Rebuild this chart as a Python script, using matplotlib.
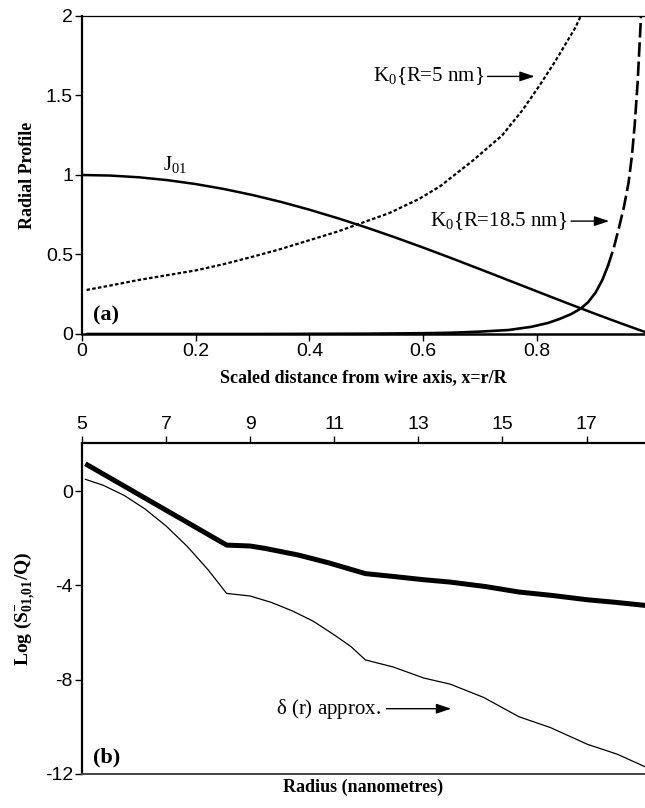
import matplotlib
matplotlib.use("Agg")
import matplotlib.pyplot as plt

plt.rcParams['mathtext.default'] = 'regular'
plt.rcParams['axes.unicode_minus'] = False

# ---------------- Panel (a) data ----------------
j01_x = [0.0, 0.05, 0.1, 0.15, 0.2, 0.25, 0.3, 0.35, 0.4, 0.45, 0.5, 0.55,
         0.6, 0.65, 0.7, 0.75, 0.8, 0.85, 0.9, 0.95, 0.99, 1.0]
j01_y = [1.0, 0.9964, 0.9856, 0.9677, 0.943, 0.9116, 0.874, 0.8306, 0.7817,
         0.7279, 0.6699, 0.6082, 0.5434, 0.4763, 0.4075, 0.3378, 0.2679,
         0.1984, 0.1302, 0.0638, 0.0126, 0.0]

k5_x = [0.008, 0.05, 0.1, 0.15, 0.2, 0.25, 0.3, 0.35, 0.4, 0.45, 0.485, 0.54,
        0.593, 0.63, 0.687, 0.739, 0.775, 0.804, 0.833, 0.868, 0.877]
k5_y = [0.277, 0.305, 0.34, 0.37, 0.40, 0.44, 0.486, 0.535, 0.59, 0.645, 0.69,
        0.76, 0.85, 0.93, 1.09, 1.25, 1.41, 1.56, 1.72, 1.93, 2.0]

k185_x = [0.01, 0.3, 0.5, 0.6, 0.65, 0.7, 0.75, 0.79, 0.82, 0.84, 0.86,
          0.877, 0.89, 0.903, 0.915, 0.925, 0.935, 0.945, 0.953, 0.961,
          0.967, 0.972, 0.977, 0.983]
k185_y = [0.0, 0.0, 0.002, 0.005, 0.008, 0.015, 0.025, 0.045, 0.07, 0.095,
          0.125, 0.16, 0.2, 0.26, 0.34, 0.43, 0.54, 0.68, 0.80, 0.95, 1.12,
          1.32, 1.58, 2.0]

a_xticks = [0, 0.2, 0.4, 0.6, 0.8]
a_xticklabels = ['0', '0.2', '0.4', '0.6', '0.8']
a_yticks = [0, 0.5, 1, 1.5, 2]
a_yticklabels = ['0', '0.5', '1', '1.5', '2']

# ---------------- Panel (b) data ----------------
exact_x = [5.08, 8.44, 9.0, 9.35, 10.14, 10.86, 11.74, 12.4, 13.13, 13.76,
           14.6, 15.39, 16.2, 17.02, 17.7, 18.4]
exact_y = [1.16, -2.29, -2.33, -2.43, -2.71, -3.04, -3.50, -3.62, -3.76,
           -3.86, -4.05, -4.28, -4.43, -4.61, -4.72, -4.85]

approx_x = [5.08, 5.5, 6.0, 6.5, 7.0, 7.5, 8.0, 8.44, 9.0, 9.5, 10.0, 10.5,
            11.0, 11.4, 11.74, 12.4, 13.13, 13.76, 14.55, 15.39, 16.14,
            17.02, 17.73, 18.4]
approx_y = [0.5, 0.25, -0.18, -0.76, -1.48, -2.34, -3.34, -4.34, -4.45,
            -4.72, -5.08, -5.52, -6.1, -6.6, -7.16, -7.46, -7.93, -8.19,
            -8.75, -9.57, -10.03, -10.74, -11.16, -11.70]

b_xticks = [5, 7, 9, 11, 13, 15, 17]
b_yticks = [0, -4, -8, -12]

SERIF = 'Liberation Serif'
SANS = 'Liberation Sans'
ARROW = '-|>,head_length=0.9,head_width=0.3'

fig = plt.figure(figsize=(6.45, 8.08), dpi=100)

# ================= Panel (a) =================
axa = fig.add_axes([82/645, 1-334/808, 1-82/645, (334-16)/808])
axa.plot(j01_x, j01_y, color='black', lw=1.8, solid_capstyle='butt')
axa.plot(k5_x, k5_y, color='black', lw=1.6, dashes=(1.6, 1.0))
split = 15
axa.plot(k185_x[:split + 1], k185_y[:split + 1], color='black', lw=1.9)
axa.plot(k185_x[split:], k185_y[split:], color='black', lw=1.9,
         dashes=(5.5, 1.8))
axa.set_xlim(0, 0.99)
axa.set_ylim(0, 2)
axa.set_xticks(a_xticks)
axa.set_xticklabels(a_xticklabels)
axa.set_yticks(a_yticks)
axa.set_yticklabels(a_yticklabels)
axa.spines['right'].set_visible(False)
axa.spines['top'].set_linewidth(0.9)
axa.spines['left'].set_linewidth(1.6)
axa.spines['bottom'].set_linewidth(1.8)
axa.tick_params(direction='out', length=5, width=1.0, pad=1.5,
                labelsize=14)
for lab in axa.get_xticklabels() + axa.get_yticklabels():
    lab.set_family(SANS)
axa.set_xlabel('Scaled distance from wire axis, x=r/R', family=SERIF,
               fontweight='bold', fontsize=13)
axa.xaxis.set_label_coords(0.5, -0.112)
axa.set_ylabel('Radial Profile', family=SERIF, fontweight='bold',
               fontsize=13)
axa.yaxis.set_label_coords(-0.082, 0.5)

axa.text(0.142, 1.03, 'J$_{01}$', family=SERIF, fontsize=15,
         ha='left', va='baseline')
axa.text(0.707, 1.62, 'K$_0${R=5 nm}', family=SERIF, fontsize=15,
         ha='right', va='center')
axa.annotate('', xy=(0.796, 1.62), xytext=(0.713, 1.62),
             arrowprops=dict(arrowstyle=ARROW, color='black', lw=1.0,
                             shrinkA=0, shrinkB=0))
axa.text(0.853, 0.71, 'K$_0${R=18.5 nm}', family=SERIF, fontsize=15,
         ha='right', va='center')
axa.annotate('', xy=(0.927, 0.71), xytext=(0.86, 0.71),
             arrowprops=dict(arrowstyle=ARROW, color='black', lw=1.0,
                             shrinkA=0, shrinkB=0))
axa.text(0.019, 0.085, '(a)', family=SERIF, fontweight='bold', fontsize=16,
         ha='left', va='baseline')

# ================= Panel (b) =================
axb = fig.add_axes([82/645, 1-774/808, 1-82/645, (774-443)/808])
axb.plot(exact_x, exact_y, color='black', lw=3.6, solid_joinstyle='round',
         solid_capstyle='butt')
axb.plot(approx_x, approx_y, color='black', lw=0.9)
axb.set_xlim(5, 18.39)
axb.set_ylim(-12, 2.04)
axb.xaxis.tick_top()
axb.set_xticks(b_xticks)
axb.set_yticks(b_yticks)
axb.spines['right'].set_visible(False)
axb.spines['top'].set_linewidth(1.6)
axb.spines['left'].set_linewidth(1.6)
axb.spines['bottom'].set_linewidth(1.4)
axb.spines['bottom'].set_color('#444444')
axb.tick_params(direction='out', length=5, width=1.0, pad=2.5,
                labelsize=14)
axb.tick_params(axis='y', pad=1.5)
for lab in axb.get_xticklabels() + axb.get_yticklabels():
    lab.set_family(SANS)
axb.set_xlabel('Radius (nanometres)', family=SERIF, fontweight='bold',
               fontsize=13)
axb.xaxis.set_label_position('bottom')
axb.xaxis.set_label_coords(0.5, -0.014)
axb.set_ylabel('Log (S$^{-}_{01{,}01}$/Q)', family=SERIF, fontweight='bold',
               fontsize=14)
axb.yaxis.set_label_coords(-0.078, 0.5)

axb.text(12.1, -9.23, r'$\delta$ (r) approx.', family=SERIF, fontsize=15,
         ha='right', va='center')
axb.annotate('', xy=(13.78, -9.23), xytext=(12.24, -9.23),
             arrowprops=dict(arrowstyle=ARROW, color='black', lw=1.0,
                             shrinkA=0, shrinkB=0))
axb.text(5.26, -11.5, '(b)', family=SERIF, fontweight='bold', fontsize=16,
         ha='left', va='baseline')

fig.savefig('out.png', dpi=100)
